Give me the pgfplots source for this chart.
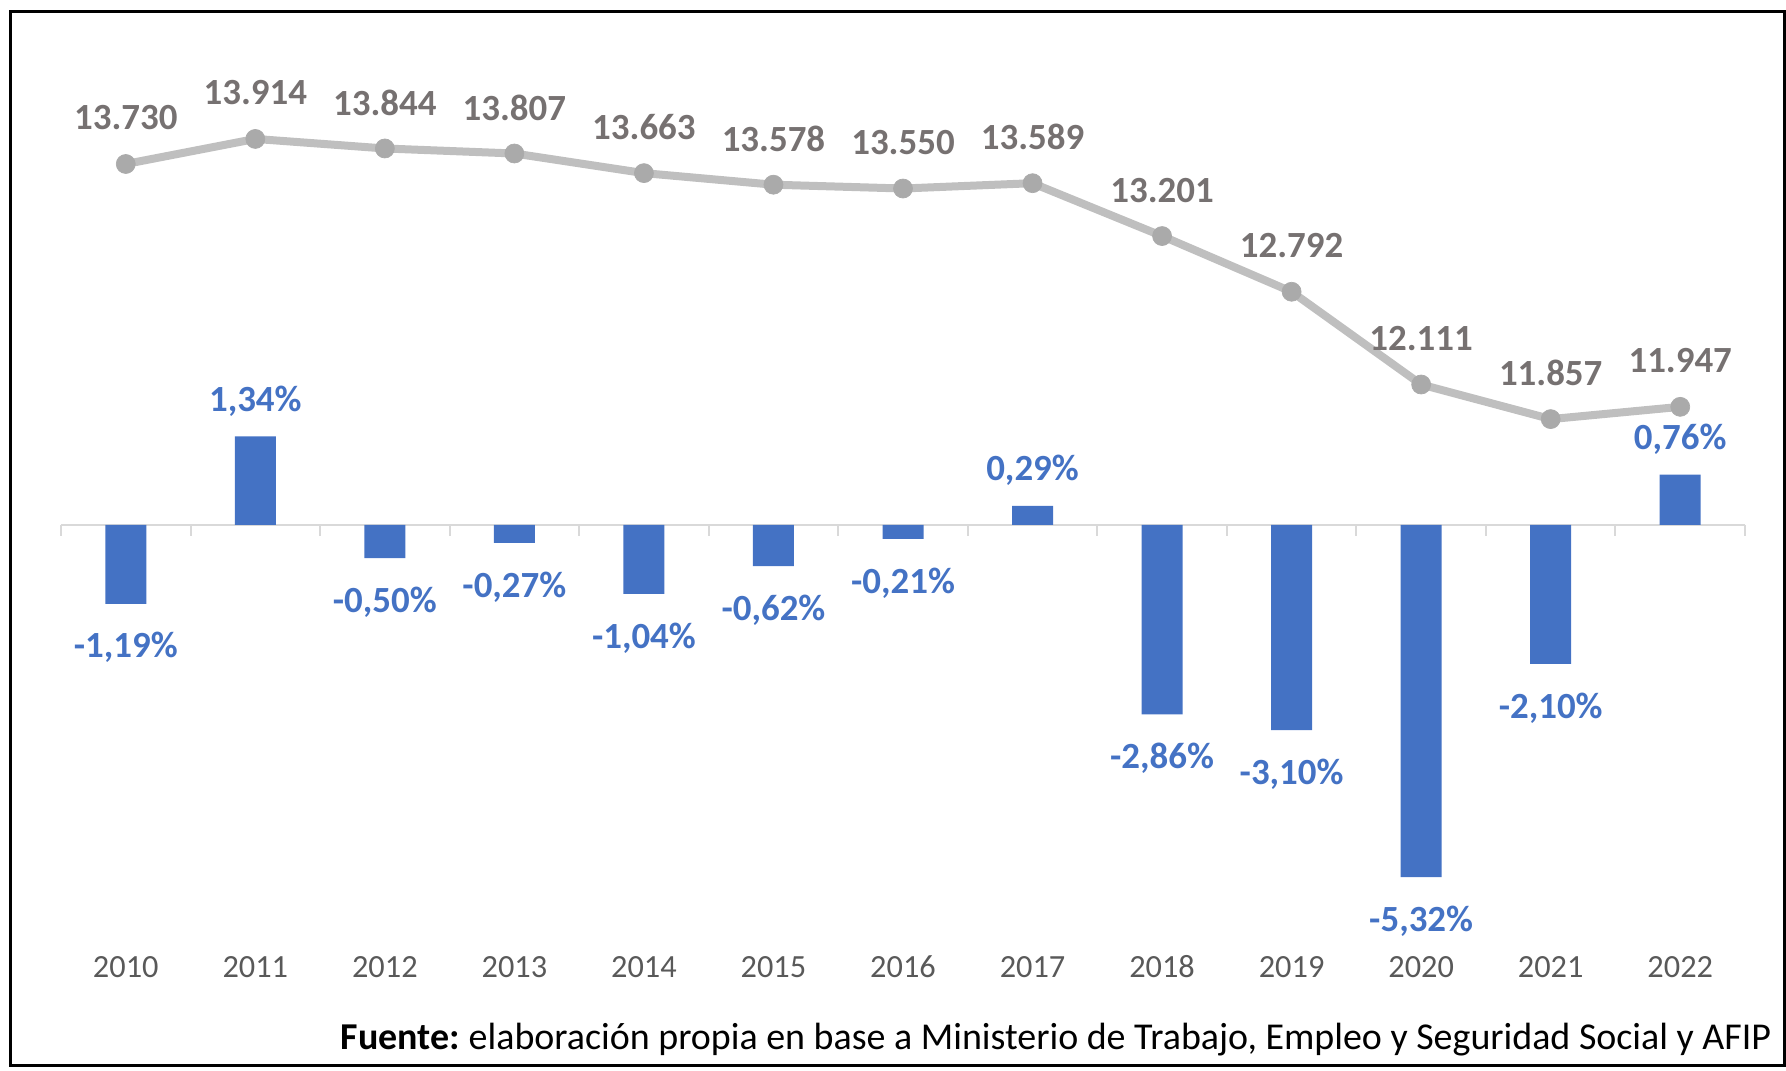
\documentclass[border=0pt]{standalone}
\usepackage{fontspec}
\setmainfont{Carlito}
\usepackage{pgfplots}
\pgfplotsset{compat=1.18}
\definecolor{barblue}{RGB}{68,114,196}
\definecolor{linegray}{RGB}{191,191,191}
\definecolor{markgray}{RGB}{170,170,170}
\definecolor{lblgray}{RGB}{118,113,113}
\definecolor{tickgray}{RGB}{89,89,89}
\definecolor{zerogray}{RGB}{217,217,217}
\begin{document}
\begin{tikzpicture}
\useasboundingbox (0,0) rectangle (17.86,10.70);
\draw[black, line width=0.03cm] (0.10,0.05) rectangle (17.84,10.58);
% bars (annual variation)
\begin{axis}[
  at={(0.61cm,10.30cm)}, anchor=north west,
  width=16.84cm, height=9cm, scale only axis,
  xmin=-0.5, xmax=12.5, ymin=-6.269, ymax=7.326,
  axis lines=none, clip=false,
  ybar, bar width=0.41cm,
  nodes near coords, point meta=explicit symbolic,
  every node near coord/.append style={font=\fontsize{10.5}{12}\selectfont\bfseries, text=barblue, inner sep=0pt, anchor=center},
]
\draw[zerogray, line width=0.02cm] (axis cs:-0.5,0) -- (axis cs:12.5,0);
\pgfplotsinvokeforeach{-0.5,0.5,1.5,2.5,3.5,4.5,5.5,6.5,7.5,8.5,9.5,10.5,11.5,12.5}{\draw[zerogray, line width=0.02cm] (axis cs:#1,0) -- ([yshift=-0.11cm]axis cs:#1,0);}
\addplot[fill=barblue, draw=none, bar shift=0pt, every node near coord/.append style={yshift=0.35cm}]
  coordinates {(1,1.34) [1,34\%] (7,0.29) [0,29\%] (12,0.76) [0,76\%]};
\addplot[fill=barblue, draw=none, bar shift=0pt, every node near coord/.append style={yshift=-0.44cm}]
  coordinates {(0,-1.19) [-1,19\%] (2,-0.50) [-0,50\%] (3,-0.27) [-0,27\%] (4,-1.04) [-1,04\%]
  (5,-0.62) [-0,62\%] (6,-0.21) [-0,21\%] (8,-2.86) [-2,86\%] (9,-3.10) [-3,10\%]
  (10,-5.32) [-5,32\%] (11,-2.10) [-2,10\%]};
\end{axis}
% line (levels)
\begin{axis}[
  at={(0.61cm,10.30cm)}, anchor=north west,
  width=16.84cm, height=9cm, scale only axis,
  xmin=-0.5, xmax=12.5, ymin=8032.5, ymax=14640.4,
  axis y line=none,
  axis x line*=bottom, x axis line style={draw=none},
  xtick={0,1,2,3,4,5,6,7,8,9,10,11,12},
  xticklabels={2010,2011,2012,2013,2014,2015,2016,2017,2018,2019,2020,2021,2022},
  major tick length=0pt,
  xticklabel style={font=\fontsize{9.2}{11}\selectfont, text=tickgray, anchor=center, yshift=-0.27cm},
  clip=false,
  nodes near coords, point meta=explicit symbolic,
  every node near coord/.append style={font=\fontsize{10.5}{12}\selectfont\bfseries, text=lblgray, inner sep=0pt, anchor=center, yshift=0.46cm},
]
\addplot[linegray, line width=0.08cm, mark=*, mark size=0.095cm, mark options={fill=markgray, draw=markgray, line width=0.2pt}]
  coordinates {(0,13730) [13.730] (1,13914) [13.914] (2,13844) [13.844] (3,13807) [13.807]
  (4,13663) [13.663] (5,13578) [13.578] (6,13550) [13.550] (7,13589) [13.589]
  (8,13201) [13.201] (9,12792) [12.792] (10,12111) [12.111] (11,11857) [11.857] (12,11947) [11.947]};
\end{axis}
\node[anchor=east, inner sep=0pt, font=\fontsize{10.8}{12}\selectfont] at (17.72,0.30)
  {\textbf{Fuente:}~elaboración propia en base a Ministerio de Trabajo, Empleo y Seguridad Social y AFIP};
\end{tikzpicture}
\end{document}
